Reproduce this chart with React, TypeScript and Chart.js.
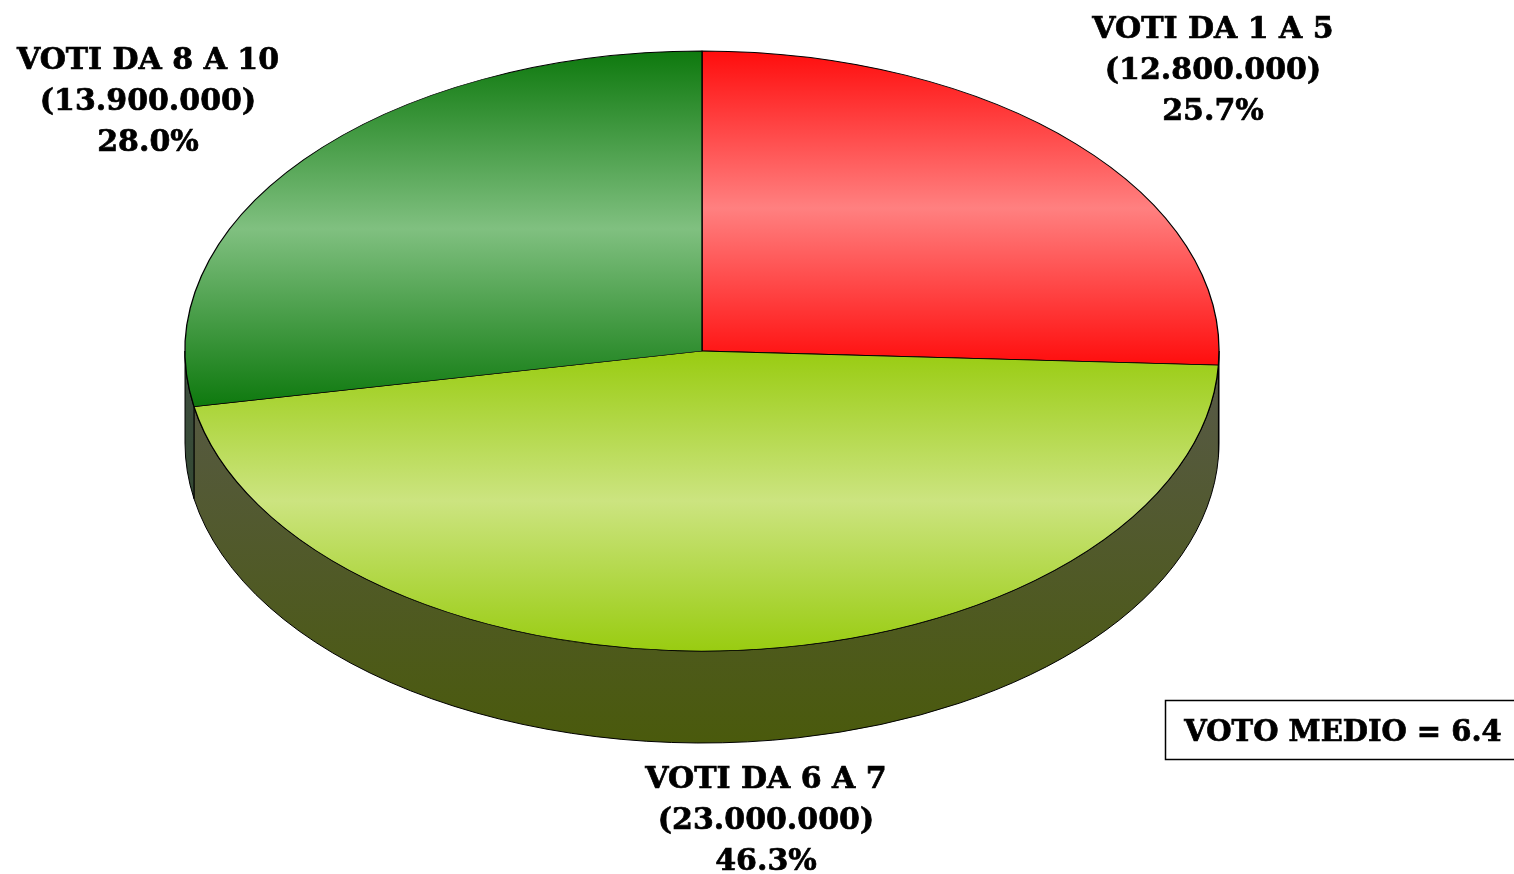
import React, { useEffect, useRef } from "react";
import { Chart, registerables } from "chart.js";

Chart.register(...registerables);

// ---- data ----
const CATEGORIES = ["VOTI DA 1 A 5", "VOTI DA 6 A 7", "VOTI DA 8 A 10"];
const VALUES = [12800000, 23000000, 13900000];
const PERCENTS = [25.7, 46.3, 28.0];
const AVERAGE_LABEL = "VOTO MEDIO";
const AVERAGE_VALUE = 6.4;

// ---- styles ----
const DARK = ["#FF0D0D", "#99CC11", "#0E790E"];
const LIGHT = ["#FF8080", "#CCE480", "#80C080"];
const SIDE_TOP = ["#7A1A1A", "#58594A", "#404F40"];
const SIDE_BOTTOM = ["#5A0A0A", "#4A5A0C", "#1E3E1E"];
const LABEL_POS = [
  { x: 1213, y: 30 },
  { x: 766, y: 780 },
  { x: 148, y: 61 },
];
const LINE_GAP = 41;
const PIE_RADIUS = 517;
const SQUASH = 300 / 517;
const DEPTH = 92;
const FONT = "bold 30px 'DejaVu Serif'";
const BOX_FONT = "bold 29px 'DejaVu Serif'";

const fmt = (v: number) => String(v).replace(/\B(?=(\d{3})+(?!\d))/g, ".");

function sliceGradient(c: any) {
  const chart = c.chart;
  const area = chart.chartArea;
  const i = c.dataIndex;
  if (!area) return DARK[i];
  const cx = (area.left + area.right) / 2;
  const cy = (area.top + area.bottom) / 2;
  const total = VALUES.reduce((a, b) => a + b, 0);
  let before = 0;
  for (let k = 0; k < i; k++) before += VALUES[k];
  const a0 = -Math.PI / 2 + (before / total) * Math.PI * 2;
  const a1 = a0 + (VALUES[i] / total) * Math.PI * 2;
  const ys = [cy, cy + PIE_RADIUS * Math.sin(a0), cy + PIE_RADIUS * Math.sin(a1)];
  const within = (a: number) => {
    for (let t = a; t < a1 + 7; t += Math.PI * 2) if (t >= a0 && t <= a1) return true;
    return false;
  };
  if (within(Math.PI / 2) || within(-1.5 * Math.PI)) ys.push(cy + PIE_RADIUS);
  if (within(-Math.PI / 2) || within(1.5 * Math.PI)) ys.push(cy - PIE_RADIUS);
  const y0 = Math.min(...ys);
  const y1 = Math.max(...ys);
  const g = chart.ctx.createLinearGradient(0, y0, 0, y1);
  g.addColorStop(0, DARK[i]);
  g.addColorStop(0.5, LIGHT[i]);
  g.addColorStop(1, DARK[i]);
  return g;
}

const pie3d = {
  id: "pie3d",
  beforeDatasetsDraw(chart: any) {
    const ctx = chart.ctx;
    const arcs = chart.getDatasetMeta(0).data;
    if (!arcs.length) return;
    const cx = arcs[0].x;
    const cy = arcs[0].y;
    const rx = arcs[0].outerRadius;
    const ry = rx * SQUASH;
    arcs.forEach((arc: any, i: number) => {
      const s = Math.max(arc.startAngle, 0);
      const e = Math.min(arc.endAngle, Math.PI);
      if (e <= s) return;
      ctx.save();
      ctx.beginPath();
      ctx.ellipse(cx, cy, rx, ry, 0, s, e, false);
      ctx.lineTo(cx + rx * Math.cos(e), cy + ry * Math.sin(e) + DEPTH);
      ctx.ellipse(cx, cy + DEPTH, rx, ry, 0, e, s, true);
      ctx.closePath();
      const g = ctx.createLinearGradient(0, cy, 0, cy + ry + DEPTH);
      g.addColorStop(0, SIDE_TOP[i]);
      g.addColorStop(1, SIDE_BOTTOM[i]);
      ctx.fillStyle = g;
      ctx.fill();
      ctx.lineWidth = 1;
      ctx.strokeStyle = "#000";
      ctx.stroke();
      ctx.restore();
    });
    ctx.save();
    ctx.translate(cx, cy);
    ctx.scale(1, SQUASH);
    ctx.translate(-cx, -cy);
  },
  afterDatasetsDraw(chart: any) {
    const arcs = chart.getDatasetMeta(0).data;
    if (!arcs.length) return;
    chart.ctx.restore();
  },
  afterDraw(chart: any) {
    const ctx = chart.ctx;
    ctx.save();
    ctx.font = FONT;
    ctx.fillStyle = "#000";
    ctx.strokeStyle = "#000";
    ctx.lineWidth = 0.7;
    ctx.textAlign = "center";
    ctx.textBaseline = "middle";
    const put = (t: string, x: number, y: number) => {
      ctx.fillText(t, x, y);
      ctx.strokeText(t, x, y);
    };
    CATEGORIES.forEach((cat, i) => {
      const p = LABEL_POS[i];
      const lines = [cat, "(" + fmt(VALUES[i]) + ")", PERCENTS[i].toFixed(1) + "%"];
      lines.forEach((t, j) => put(t, p.x, p.y + j * LINE_GAP));
    });
    // average box
    ctx.lineWidth = 1.5;
    ctx.strokeRect(1165.5, 700.5, 360, 59);
    ctx.lineWidth = 0.7;
    ctx.font = BOX_FONT;
    put(AVERAGE_LABEL + " = " + AVERAGE_VALUE.toFixed(1), 1343, 733);
    ctx.restore();
  },
};

export default function App() {
  const ref = useRef<HTMLCanvasElement | null>(null);
  useEffect(() => {
    document.body.style.margin = "0";
    const canvas = ref.current;
    if (!canvas) return;
    const chart = new Chart(canvas, {
      type: "pie",
      data: {
        labels: CATEGORIES,
        datasets: [
          {
            data: VALUES,
            backgroundColor: sliceGradient as any,
            borderColor: "#000",
            borderWidth: 1.3,
            radius: PIE_RADIUS,
            clip: false as any,
          } as any,
        ],
      },
      options: {
        responsive: false,
        animation: false,
        events: [],
        layout: { padding: { left: 0, top: 0, right: 110, bottom: 172 } },
        plugins: {
          legend: { display: false },
          tooltip: { enabled: false },
          title: { display: false },
        },
      },
      plugins: [pie3d],
    });
    return () => chart.destroy();
  }, []);
  return (
    <div style={{ position: "absolute", left: 0, top: 0, width: 1514, height: 874, background: "#fff" }}>
      <canvas ref={ref} width={1514} height={874} style={{ width: 1514, height: 874, display: "block" }} />
    </div>
  );
}
